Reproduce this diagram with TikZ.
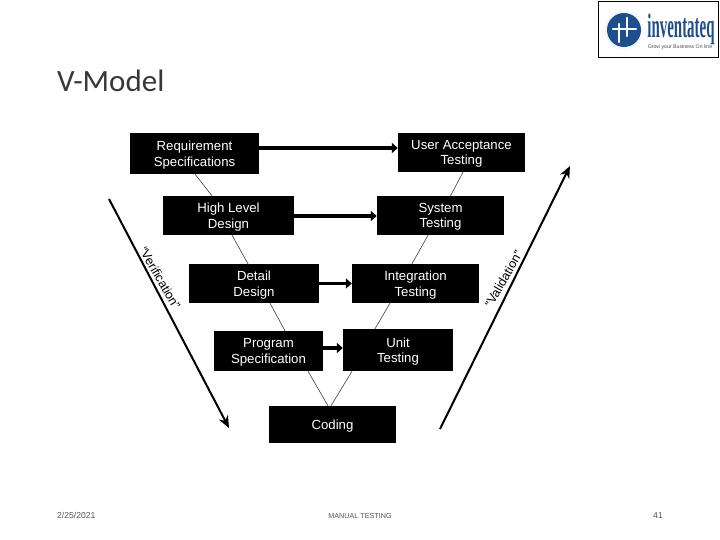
\documentclass[tikz,border=0pt]{standalone}
\usepackage{fontspec}
\setmainfont{Liberation Sans}
\newfontfamily\titlefont{Carlito}
\newfontfamily\logofont{Liberation Serif}
\usetikzlibrary{arrows.meta}
\definecolor{logoblue}{HTML}{1F4E8C}
\definecolor{logoglow}{HTML}{A9D6EE}
\definecolor{footgray}{HTML}{555555}
\tikzset{
  phase/.style={fill=black,draw=none,text=white,align=center,font=\fontsize{13.2}{15.5}\selectfont,inner sep=0pt,text depth=0pt},
  thinlink/.style={draw=black!75,line width=0.6pt},
  bigarrow/.style={draw=black,line width=3.8pt,-{Triangle[length=6pt,width=10pt]}},
  sidearrow/.style={draw=black,line width=2pt,-{Stealth[length=12pt,width=10pt]}},
  sidelabel/.style={font=\fontsize{12.5}{14}\selectfont,inner sep=0pt},
  foot/.style={font=\fontsize{7.2}{9}\selectfont,text=footgray,inner sep=0pt}
}
\begin{document}
\begin{tikzpicture}[x=1pt,y=-1pt]
\useasboundingbox (0,0) rectangle (720,540);
\fill[white] (0,0) rectangle (720,540);

\node[anchor=base west,inner sep=0pt,font=\titlefont\fontsize{31}{36}\selectfont,text=black!78] (title) at (57,92) {V-Model};

% logo
\node[draw=black,line width=1pt,fill=white,minimum width=120pt,minimum height=56pt,inner sep=0pt] (logo) at (658,30) {};
\shade[inner color=logoglow,outer color=white] (623,30) circle (21);
\fill[logoblue] (624,30) circle (17);
\draw[white,line width=2.4pt,line cap=round] (619,24) -- (619,42);
\draw[white,line width=2.4pt,line cap=round] (627,18) -- (627,36) (613,29) -- (636,29);
\node[inner sep=0pt,text=logoblue,font=\logofont\bfseries\fontsize{34}{34}\selectfont,xscale=0.44,yscale=1.0] (brand) at (681,29) {inventateq};
\node[inner sep=0pt,text=black!70,font=\fontsize{5.2}{6}\selectfont] (tag) at (680,47.5) {Grow your Business On line};

% phases
\node[phase,minimum width=129pt,minimum height=41pt] (req) at (194.5,153.5) {Requirement\\Specifications};
\node[phase,minimum width=127pt,minimum height=39pt] (uat) at (461.5,152.5) {User Acceptance\\Testing};
\node[phase,minimum width=131pt,minimum height=39pt] (hld) at (228.5,215.5) {High Level\\Design};
\node[phase,minimum width=127pt,minimum height=39pt] (sys) at (440.5,215.5) {System\\Testing};
\node[phase,minimum width=130pt,minimum height=39pt] (det) at (254,283.5) {Detail\\Design};
\node[phase,minimum width=127pt,minimum height=39pt] (int) at (415.5,283.5) {Integration\\Testing};
\node[phase,minimum width=109pt,minimum height=40pt] (prog) at (268.5,351) {Program\\Specification};
\node[phase,minimum width=110pt,minimum height=42pt] (unit) at (398,350) {Unit\\Testing};
\node[phase,minimum width=127pt,minimum height=37pt] (cod) at (332.5,424.5) {Coding};

% thin V links
\draw[thinlink] ([xshift=0.5pt]req.south) -- ([xshift=-16.5pt]hld.north);
\draw[thinlink] ([xshift=3.5pt]hld.south) -- ([xshift=-6pt]det.north);
\draw[thinlink] ([xshift=16pt]det.south) -- ([xshift=16.5pt]prog.north);
\draw[thinlink] ([xshift=39.5pt]prog.south) -- ([xshift=-4.5pt]cod.north);
\draw[thinlink] ([xshift=-1.5pt]cod.north) -- ([xshift=-46pt]unit.south);
\draw[thinlink] ([xshift=-23pt]unit.north) -- ([xshift=-25.5pt]int.south);
\draw[thinlink] ([xshift=-3.5pt]int.north) -- ([xshift=-12.5pt]sys.south);
\draw[thinlink] ([xshift=10pt]sys.north) -- ([xshift=1.5pt]uat.south);

% horizontal arrows
\draw[bigarrow] ([yshift=5.5pt]req.east) -- ([yshift=4.5pt]uat.west);
\draw[bigarrow] ([yshift=-0.5pt]hld.east) -- ([yshift=-0.5pt]sys.west);
\draw[bigarrow] (det.east) -- (int.west);
\draw[bigarrow] ([yshift=3pt]prog.east) -- ([yshift=2pt]unit.west);

% side arrows
\coordinate (vs) at (109,199);
\coordinate (ve) at (229,428);
\coordinate (ws) at (440,429);
\coordinate (we) at (570,166);
\draw[sidearrow] (vs) -- (ve);
\draw[sidearrow] (ws) -- (we);
\node[sidelabel,rotate=-60] (verif) at (160,278) {“Verification”};
\node[sidelabel,rotate=60] (valid) at (503.5,279) {“Validation”};

% footer
\node[foot,anchor=base west,font=\fontsize{8.6}{10}\selectfont] (date) at (57,518) {2/25/2021};
\node[foot,anchor=base] (topic) at (360,518) {MANUAL TESTING};
\node[foot,anchor=base east,font=\fontsize{8.6}{10}\selectfont] (page) at (663,518) {41};
\end{tikzpicture}
\end{document}
